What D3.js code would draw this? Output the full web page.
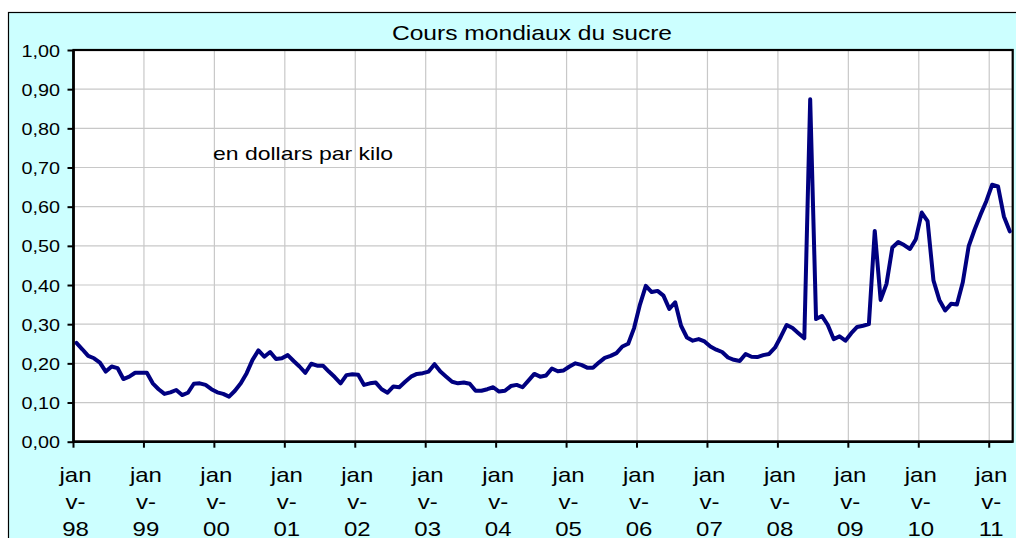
<!DOCTYPE html>
<html>
<head>
<meta charset="utf-8">
<script src="https://d3js.org/d3.v7.min.js"></script>
<style>
  body { margin: 0; background: #ffffff; }
  text { font-family: "Liberation Sans", Arial, sans-serif; fill: #000; }
</style>
</head>
<body>
<div id="chart"></div>
<script>
// Monthly world sugar price, $ per kilo, jan 98 -> apr 11
var years = ["98","99","00","01","02","03","04","05","06","07","08","09","10","11"];
var months = ["janv","févr","mars","avr","mai","juin","juil","août","sept","oct","nov","déc"];

var prix = [
  0.252, 0.236, 0.219, 0.213, 0.202, 0.179, 0.192, 0.188, 0.160, 0.166, 0.176, 0.176,
  0.176, 0.149, 0.134, 0.122, 0.126, 0.132, 0.119, 0.125, 0.148, 0.149, 0.145, 0.134,
  0.126, 0.122, 0.115, 0.130, 0.149, 0.175, 0.209, 0.233, 0.217, 0.229, 0.211, 0.213,
  0.221, 0.206, 0.192, 0.176, 0.199, 0.194, 0.194, 0.179, 0.165, 0.149, 0.170, 0.172,
  0.171, 0.145, 0.149, 0.151, 0.134, 0.125, 0.141, 0.139, 0.153, 0.166, 0.173, 0.175,
  0.179, 0.198, 0.179, 0.166, 0.153, 0.149, 0.151, 0.148, 0.130, 0.130, 0.134, 0.139,
  0.128, 0.130, 0.142, 0.145, 0.139, 0.156, 0.173, 0.166, 0.169, 0.187, 0.180, 0.182,
  0.192, 0.200, 0.196, 0.189, 0.189, 0.202, 0.214, 0.219, 0.226, 0.243, 0.250, 0.290,
  0.350, 0.398, 0.382, 0.385, 0.373, 0.339, 0.356, 0.296, 0.266, 0.258, 0.262, 0.256,
  0.243, 0.235, 0.229, 0.215, 0.209, 0.206, 0.224, 0.217, 0.216, 0.221, 0.224, 0.240,
  0.268, 0.298, 0.290, 0.277, 0.264, 0.874, 0.313, 0.321, 0.298, 0.262, 0.269, 0.258,
  0.277, 0.293, 0.296, 0.300, 0.538, 0.362, 0.403, 0.496, 0.510, 0.502, 0.492, 0.517,
  0.585, 0.563, 0.412, 0.362, 0.335, 0.352, 0.350, 0.407, 0.499, 0.541, 0.579, 0.614,
  0.656, 0.652, 0.575, 0.537
];

var yTicks = [0, 0.1, 0.2, 0.3, 0.4, 0.5, 0.6, 0.7, 0.8, 0.9, 1.0];

// category labels "janv-98", "févr-98", ... one per value
var categories = prix.map(function(d, i) {
  return months[i % 12] + "-" + years[Math.floor(i / 12)];
});
var tickLabels = years.map(function(y) { return "janv-" + y; });

var svgWidth = 1016;
var svgHeight = 538;
var plot = { left: 73.5, right: 1012.7, top: 50, bottom: 441.7 };

var svg = d3.select("#chart")
  .append("svg")
  .attr("width", svgWidth)
  .attr("height", svgHeight);

// chart frame (cyan background)
svg.append("rect")
  .attr("x", 8.5)
  .attr("y", 12.5)
  .attr("width", 1100)
  .attr("height", 600)
  .attr("fill", "#ccffff")
  .attr("stroke", "#000")
  .attr("stroke-width", 1.2);

// scales
var x = d3.scaleBand()
  .domain(categories)
  .range([plot.left, plot.right])
  .paddingInner(0)
  .paddingOuter(0);

var y = d3.scaleLinear()
  .domain([0, 1])
  .range([plot.bottom, plot.top]);

// plot area
svg.append("rect")
  .attr("x", plot.left)
  .attr("y", plot.top)
  .attr("width", plot.right - plot.left)
  .attr("height", plot.bottom - plot.top)
  .attr("fill", "#fff");

// gridlines
svg.append("g").selectAll("line")
  .data(yTicks.slice(1))
  .enter()
  .append("line")
  .attr("x1", plot.left)
  .attr("x2", plot.right)
  .attr("y1", d => y(d))
  .attr("y2", d => y(d))
  .attr("stroke", "#c8c8c8")
  .attr("stroke-width", 1.2);

svg.append("g").selectAll("line")
  .data(tickLabels.slice(1))
  .enter()
  .append("line")
  .attr("x1", d => x(d))
  .attr("x2", d => x(d))
  .attr("y1", plot.top)
  .attr("y2", plot.bottom)
  .attr("stroke", "#c8c8c8")
  .attr("stroke-width", 1.2);

// border of plot area
svg.append("rect")
  .attr("x", plot.left)
  .attr("y", plot.top)
  .attr("width", plot.right - plot.left)
  .attr("height", plot.bottom - plot.top)
  .attr("fill", "none")
  .attr("stroke", "#000")
  .attr("stroke-width", 2.2);

// line
var line = d3.line()
  .x((d, i) => x(categories[i]) + x.bandwidth() / 2)
  .y(d => y(d));

svg.append("path")
  .datum(prix)
  .attr("d", line)
  .attr("fill", "none")
  .attr("stroke", "#000080")
  .attr("stroke-width", 4)
  .attr("stroke-linejoin", "round")
  .attr("stroke-linecap", "round");

// y axis
var yAxis = d3.axisLeft(y)
  .tickValues(yTicks)
  .tickSize(6)
  .tickFormat(d => d.toFixed(2).replace(".", ","));

var yAxisG = svg.append("g")
  .attr("transform", `translate(${plot.left},0)`)
  .call(yAxis);
yAxisG.select(".domain").attr("stroke-width", 2.6).attr("d", `M0,${plot.top}V${plot.bottom}`);
yAxisG.selectAll(".tick line").attr("stroke-width", 2);
yAxisG.selectAll(".tick text")
  .attr("x", null)
  .attr("dy", null)
  .attr("font-size", 16.8)
  .attr("font-family", "Liberation Sans, Arial, sans-serif")
  .attr("text-anchor", "end")
  .attr("transform", "translate(-13.5,6) scale(1.18,1)");

// x axis, tick every january
var xAxis = d3.axisBottom(x)
  .tickValues(tickLabels)
  .tickSize(6)
  .tickFormat("");

var xAxisG = svg.append("g")
  .attr("transform", `translate(0,${plot.bottom})`)
  .call(xAxis);
xAxisG.select(".domain").attr("stroke-width", 2.6).attr("d", `M${plot.left},0H${plot.right}`);
// band scale puts ticks at centre: move them to the january boundary
xAxisG.selectAll(".tick")
  .attr("transform", d => `translate(${x(d)},0)`);
xAxisG.selectAll(".tick line").attr("stroke-width", 2);

// "janv-98" wraps as "jan" / "v-" / "98"
xAxisG.selectAll(".tick").each(function(d) {
  var parts = [d.slice(0, 3), d.slice(3, 5), d.slice(5)];
  var t = d3.select(this).select("text")
    .attr("y", null)
    .attr("dy", null)
    .attr("font-size", 20)
    .attr("font-family", "Liberation Sans, Arial, sans-serif")
    .attr("text-anchor", "middle")
    .attr("transform", "translate(2,0) scale(1.2,1)");
  t.text(null);
  [40.3, 67.8, 94.5].forEach(function(by, k) {
    t.append("tspan")
      .attr("x", 0)
      .attr("y", by)
      .text(parts[k]);
  });
});

// title
svg.append("text")
  .attr("transform", "translate(532,39.5) scale(1.2,1)")
  .attr("text-anchor", "middle")
  .attr("font-size", 20.5)
  .text("Cours mondiaux du sucre");

// unit note
svg.append("text")
  .attr("transform", "translate(213,159.5) scale(1.21,1)")
  .attr("font-size", 19)
  .text("en dollars par kilo");
</script>
</body>
</html>
